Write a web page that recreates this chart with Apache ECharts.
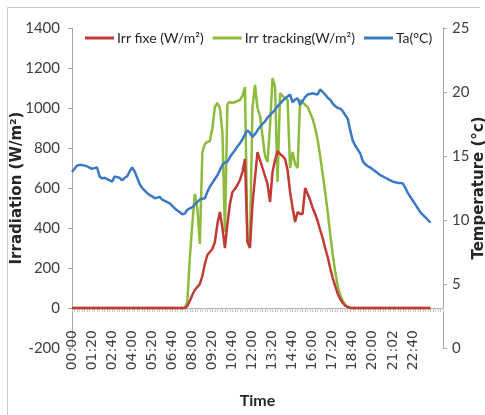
<!DOCTYPE html>
<html>
<head>
<meta charset="utf-8">
<script src="https://cdn.jsdelivr.net/npm/echarts/dist/echarts.min.js"></script>
<style>
  html, body { margin: 0; padding: 0; background: #fff; }
  #main { width: 485px; height: 415px; }
</style>
</head>
<body>
<div id="main"></div>
<script>
// time axis: 10 min steps (a few empty slots at the end like the excel sheet)
var times = [];
for (var k = 0; k < 149; k++) {
    var h = Math.floor(k / 6), m = (k % 6) * 10;
    times.push((h < 10 ? '0' : '') + h + ':' + (m < 10 ? '0' : '') + m);
}

var tickLabels = ['00:00', '01:20', '02:40', '04:00', '05:20', '06:40', '08:00', '09:20', '10:40',
    '12:00', '13:20', '14:40', '16:00', '17:20', '18:40', '20:00', '21:02', '22:40'];

var irrFixe = [
    0, 0, 0, 0, 0, 0, 0, 0, 0, 0, 0, 0,
    0, 0, 0, 0, 0, 0, 0, 0, 0, 0, 0, 0,
    0, 0, 0, 0, 0, 0, 0, 0, 0, 0, 0, 0,
    0, 0, 0, 0, 0, 0, 0, 0, 0, 0, 10, 35,
    65, 90, 105, 120, 160, 220, 265, 280, 295, 330, 420, 480,
    400, 300, 420, 520, 580, 595, 615, 640, 680, 745, 330, 300,
    520, 650, 780, 740, 700, 660, 620, 530, 680, 740, 785, 770,
    760, 745, 690, 580, 500, 430, 480, 470, 470, 600, 570, 540,
    500, 470, 435, 390, 350, 300, 255, 200, 150, 110, 70, 45,
    25, 12, 5, 0, 0, 0, 0, 0, 0, 0, 0, 0,
    0, 0, 0, 0, 0, 0, 0, 0, 0, 0, 0, 0,
    0, 0, 0, 0, 0, 0, 0, 0, 0, 0, 0, 0
];

var irrTracking = [
    0, 0, 0, 0, 0, 0, 0, 0, 0, 0, 0, 0,
    0, 0, 0, 0, 0, 0, 0, 0, 0, 0, 0, 0,
    0, 0, 0, 0, 0, 0, 0, 0, 0, 0, 0, 0,
    0, 0, 0, 0, 0, 0, 0, 0, 0, 0, 30, 250,
    420, 570, 500, 320, 780, 820, 830, 835, 900, 1005, 1025, 1000,
    880, 380, 1020, 1030, 1025, 1030, 1035, 1040, 1060, 1105, 330, 340,
    1000, 1115, 1000, 960, 860, 760, 730, 910, 1150, 1105, 630, 1075,
    1060, 1050, 1040, 700, 780, 720, 700, 1040, 1030, 1015, 1005, 975,
    945, 900, 840, 760, 670, 580, 480, 370, 270, 180, 110, 65,
    35, 15, 5, 0, 0, 0, 0, 0, 0, 0, 0, 0,
    0, 0, 0, 0, 0, 0, 0, 0, 0, 0, 0, 0,
    0, 0, 0, 0, 0, 0, 0, 0, 0, 0, 0, 0
];

var ta = [
    13.75, 14.0, 14.25, 14.3, 14.3, 14.25, 14.2, 14.1, 14.0, 14.05, 14.1, 13.4,
    13.25, 13.3, 13.2, 13.1, 13.0, 13.4, 13.35, 13.3, 13.1, 13.3, 13.4, 13.8,
    14.1, 13.8, 13.3, 12.8, 12.5, 12.3, 12.1, 11.95, 11.85, 11.7, 11.75, 11.8,
    11.6, 11.5, 11.4, 11.3, 11.1, 10.9, 10.75, 10.6, 10.45, 10.5, 10.8, 10.9,
    11.0, 11.2, 11.4, 11.6, 11.65, 11.7, 12.2, 12.6, 12.9, 13.2, 13.5, 13.9,
    14.3, 14.5, 14.55, 14.9, 15.2, 15.45, 15.75, 16.0, 16.3, 16.7, 17.0, 16.8,
    16.5, 16.7, 17.0, 17.3, 17.5, 17.7, 18.0, 18.2, 18.4, 18.6, 18.9, 19.1,
    19.3, 19.5, 19.65, 19.8, 19.2, 19.4, 19.5, 19.0, 19.3, 19.6, 19.8, 19.85,
    19.9, 19.85, 19.8, 20.2, 20.0, 19.8, 19.55, 19.4, 19.1, 18.9, 18.75, 18.7,
    18.5, 18.2, 17.9, 17.0, 16.2, 15.8, 15.5, 15.2, 14.6, 14.35, 14.2, 14.1,
    13.95, 13.8, 13.65, 13.5, 13.4, 13.3, 13.2, 13.1, 13.0, 12.95, 12.9, 12.9,
    12.85, 12.5, 12.1, 11.8, 11.5, 11.2, 10.9, 10.6, 10.4, 10.2, 10.0, 9.8
];

var narrow = 'Lato, sans-serif';
var grey = '#404040';
var plain = function (v) { return String(v); };

var myChart = echarts.init(document.getElementById('main'));

myChart.setOption({
    animation: false,
    textStyle: { fontFamily: narrow },
    graphic: [
        { type: 'line', shape: { x1: 7.5, y1: 7.5, x2: 480, y2: 7.5 }, style: { stroke: '#c8c8c8', lineWidth: 1 } },
        { type: 'line', shape: { x1: 7.5, y1: 7.5, x2: 7.5, y2: 415 }, style: { stroke: '#c8c8c8', lineWidth: 1 } }
    ],
    legend: {
        left: 80,
        top: 26,
        icon: 'rect',
        itemWidth: 29,
        itemHeight: 3,
        itemGap: 9,
        data: ['Irr fixe (W/m²)', 'Irr tracking(W/m²)', 'Ta(°C)'],
        textStyle: { fontFamily: narrow, fontSize: 14, color: '#262626', padding: [0, 0, 0, -2] }
    },
    grid: { left: 72, right: 42, top: 28, bottom: 67, containLabel: false, outerBoundsMode: 'none' },
    xAxis: {
        type: 'category',
        data: times,
        boundaryGap: false,
        name: 'Time',
        nameLocation: 'middle',
        nameGap: 45,
        nameMoveOverlap: false,
        nameTextStyle: { fontFamily: narrow, fontWeight: 'bold', fontSize: 16, color: '#262626' },
        axisLine: { onZero: true, onZeroAxisIndex: 0, lineStyle: { color: '#a6a6a6' } },
        axisTick: { interval: 0, length: 4, lineStyle: { color: '#c8c8c8' } },
        axisLabel: {
            interval: 7,
            rotate: 90,
            margin: -18,
            fontFamily: 'DejaVu Sans',
            fontSize: 14,
            color: grey,
            formatter: function (v, i) { return tickLabels[i / 8] || ''; }
        },
        splitLine: { show: false }
    },
    yAxis: [{
        type: 'value',
        min: -200,
        max: 1400,
        interval: 200,
        name: 'Irradiation (W/m²)',
        nameLocation: 'middle',
        nameGap: 47,
        nameMoveOverlap: false,
        nameTextStyle: { fontFamily: 'DejaVu Sans', fontWeight: 'bold', fontSize: 15, color: '#262626' },
        axisLine: { show: true, lineStyle: { color: '#a6a6a6' } },
        axisTick: { show: true, length: 4, lineStyle: { color: '#a6a6a6' } },
        axisLabel: { margin: 12, fontSize: 15, color: grey, formatter: plain },
        splitLine: { show: false }
    }, {
        type: 'value',
        position: 'right',
        min: 0,
        max: 25,
        interval: 5,
        name: 'Temperature (°c)',
        nameLocation: 'middle',
        nameGap: 29,
        nameMoveOverlap: false,
        nameTextStyle: { fontFamily: 'DejaVu Sans', fontWeight: 'bold', fontSize: 15, color: '#262626' },
        axisLine: { show: true, lineStyle: { color: '#a6a6a6' } },
        axisTick: { show: true, length: 4, lineStyle: { color: '#a6a6a6' } },
        axisLabel: { margin: 9, fontSize: 15, color: grey, formatter: plain },
        splitLine: { show: false }
    }],
    series: [{
        name: 'Irr tracking(W/m²)',
        type: 'line',
        data: irrTracking,
        showSymbol: false,
        symbol: 'none',
        color: '#8dbb3e',
        lineStyle: { width: 2.5 }
    }, {
        name: 'Irr fixe (W/m²)',
        type: 'line',
        data: irrFixe,
        showSymbol: false,
        symbol: 'none',
        color: '#c23a35',
        lineStyle: { width: 2.5 }
    }, {
        name: 'Ta(°C)',
        type: 'line',
        yAxisIndex: 1,
        data: ta,
        showSymbol: false,
        symbol: 'none',
        color: '#3b79c4',
        lineStyle: { width: 2.5 }
    }]
});
</script>
</body>
</html>
